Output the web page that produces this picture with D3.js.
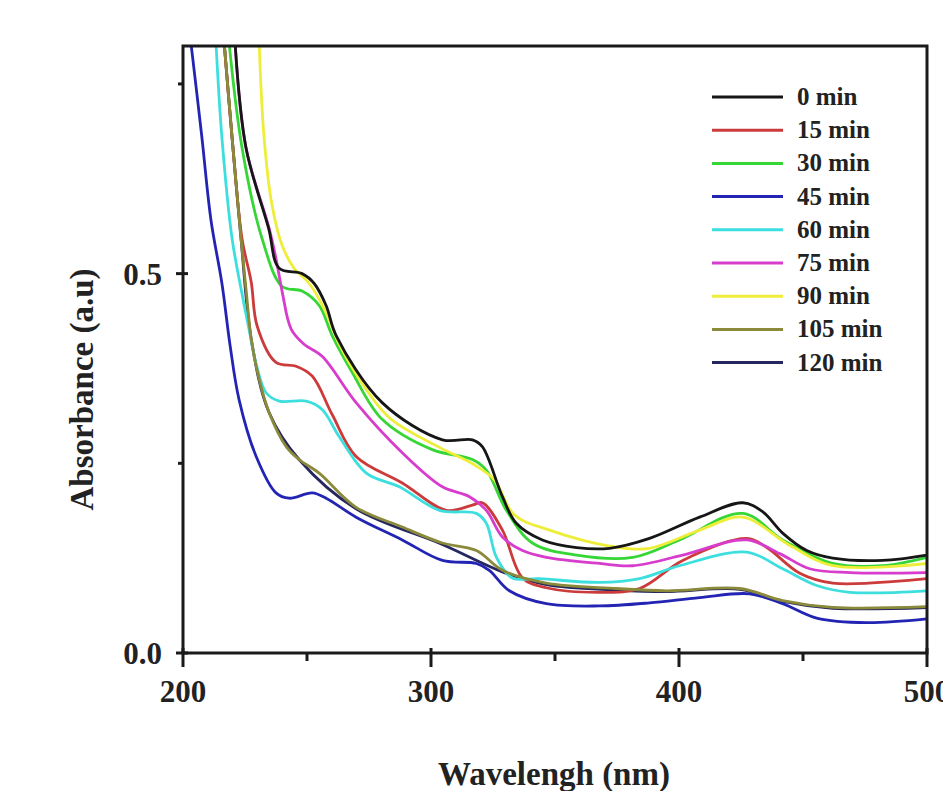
<!DOCTYPE html>
<html>
<head>
<meta charset="utf-8">
<script src="https://cdn.jsdelivr.net/npm/d3@7"></script>
<style>
  body { margin: 0; background: #fff; }
  text { font-family: "Liberation Serif", "Times New Roman", serif; font-weight: bold; fill: #222; }
</style>
</head>
<body>
<div class="chart"></div>
<script>
// legend labels and colours
var labels = ["0 min", "15 min", "30 min", "45 min", "60 min", "75 min", "90 min", "105 min", "120 min"];
var colors = ["#161616", "#cc3b3b", "#36d636", "#2424b4", "#3ddede", "#d83ccc", "#eeee3a", "#8a8a3a", "#262660"];

// spectra: wavelength (nm) / absorbance (a.u)
var wl0 = [221, 225.4, 234.5, 238.8, 248, 252.9, 257.7, 261.8, 280.3, 304.6, 316.7, 320.7, 328.8, 334.4, 344.9, 358.7, 372, 388.1, 408.3, 425.7, 433.8, 441.8, 451.5, 462, 482.2, 500];
var abs0 = [0.804, 0.666, 0.56, 0.507, 0.5, 0.487, 0.458, 0.418, 0.33, 0.281, 0.281, 0.272, 0.206, 0.171, 0.149, 0.139, 0.138, 0.151, 0.179, 0.198, 0.186, 0.158, 0.135, 0.125, 0.122, 0.129];

var wl15 = [216.6, 219.8, 223.8, 227.5, 229.9, 237.5, 245.6, 252.1, 260.2, 269.8, 288.4, 306.2, 316.7, 320.7, 328.8, 336.9, 346.5, 367.9, 384.1, 401.5, 427.3, 435.4, 448.7, 462, 500];
var abs15 = [0.804, 0.679, 0.546, 0.489, 0.431, 0.383, 0.378, 0.365, 0.314, 0.259, 0.224, 0.188, 0.195, 0.198, 0.162, 0.099, 0.086, 0.08, 0.085, 0.122, 0.151, 0.139, 0.105, 0.092, 0.098];

var wl30 = [218.6, 223.8, 231.9, 240, 248, 254.9, 260.2, 268.2, 280.3, 300.5, 316.7, 322.3, 330.4, 340.9, 358.7, 381.3, 400.2, 425.7, 441.8, 462, 482.2, 500];
var abs30 = [0.804, 0.666, 0.546, 0.483, 0.477, 0.458, 0.418, 0.37, 0.308, 0.268, 0.255, 0.241, 0.188, 0.145, 0.129, 0.126, 0.149, 0.184, 0.149, 0.118, 0.115, 0.126];

var wl45 = [203.2, 207.5, 211.3, 215.7, 219, 222.6, 229.5, 237.5, 242.8, 252.1, 257.7, 269.8, 288.4, 304.6, 318.3, 323.5, 331.6, 346.5, 367.9, 388.1, 408.3, 428.5, 441.8, 455.5, 475.7, 500];
var abs45 = [0.804, 0.683, 0.57, 0.487, 0.405, 0.334, 0.259, 0.211, 0.204, 0.211, 0.204, 0.179, 0.149, 0.122, 0.118, 0.109, 0.082, 0.065, 0.062, 0.066, 0.073, 0.078, 0.065, 0.046, 0.04, 0.045];

var wl60 = [213.3, 215.7, 219.8, 223.4, 226.6, 229.5, 233.5, 238.8, 249.7, 256.1, 263, 273.9, 287.2, 303.4, 318.3, 322.3, 326.4, 332.8, 343.7, 367.9, 384.1, 400.2, 427.3, 441.8, 455.5, 468.9, 500];
var abs60 = [0.804, 0.679, 0.546, 0.48, 0.427, 0.381, 0.343, 0.332, 0.332, 0.321, 0.285, 0.237, 0.219, 0.188, 0.184, 0.171, 0.126, 0.099, 0.098, 0.093, 0.098, 0.115, 0.133, 0.111, 0.089, 0.08, 0.082];

var wl75 = [221, 225.4, 234.7, 237.5, 240, 243.6, 248.8, 256.1, 269.8, 288.4, 304.6, 315.5, 322.3, 328.8, 336.9, 346.5, 367.9, 381.3, 401.5, 427.3, 440.6, 452.7, 468.9, 500];
var abs75 = [0.804, 0.666, 0.56, 0.52, 0.476, 0.427, 0.407, 0.391, 0.33, 0.264, 0.219, 0.206, 0.188, 0.153, 0.135, 0.126, 0.118, 0.115, 0.129, 0.149, 0.131, 0.111, 0.106, 0.106];

var wl90 = [230.7, 232.7, 235.9, 240, 244.8, 250.9, 256.9, 263, 271.1, 283.2, 303.4, 317.5, 325.6, 333.6, 347.8, 372, 388.1, 408.3, 425.7, 444.6, 462, 500];
var abs90 = [0.804, 0.679, 0.59, 0.537, 0.507, 0.487, 0.454, 0.407, 0.361, 0.31, 0.271, 0.248, 0.228, 0.182, 0.162, 0.141, 0.138, 0.162, 0.179, 0.142, 0.115, 0.118];

var wl105 = [216.6, 219.8, 223.4, 225.4, 227.5, 230.7, 234.7, 241.6, 246.8, 254.9, 269.8, 288.4, 304.6, 318.3, 328.8, 346.5, 374.8, 395, 424.5, 441.8, 462, 500];
var abs105 = [0.804, 0.679, 0.546, 0.48, 0.414, 0.361, 0.317, 0.272, 0.255, 0.237, 0.192, 0.166, 0.145, 0.135, 0.109, 0.092, 0.085, 0.082, 0.085, 0.069, 0.06, 0.061];

var wl120 = [216.6, 219.8, 223.4, 227.5, 234.7, 246.8, 269.8, 304.6, 328.8, 346.5, 374.8, 395, 424.5, 441.8, 462, 500];
var abs120 = [0.804, 0.679, 0.546, 0.414, 0.317, 0.255, 0.19, 0.143, 0.107, 0.09, 0.083, 0.081, 0.084, 0.068, 0.059, 0.06];

var xTicks = [200, 250, 300, 350, 400, 450, 500];
var xLabels = [200, 300, 400, 500];
var yTicks = [0, 0.25, 0.5, 0.75];
var yLabels = [0, 0.5];

var allWl = [wl0, wl15, wl30, wl45, wl60, wl75, wl90, wl105, wl120];
var allAbs = [abs0, abs15, abs30, abs45, abs60, abs75, abs90, abs105, abs120];

var svgWidth = 943, svgHeight = 791;
var margin = { top: 46, left: 183, right: 16, bottom: 138 };
var width = svgWidth - margin.left - margin.right;
var height = svgHeight - margin.top - margin.bottom;

var svg = d3.select(".chart").append("svg")
    .attr("width", svgWidth)
    .attr("height", svgHeight);

var chartGroup = svg.append("g")
    .attr("transform", `translate(${margin.left}, ${margin.top})`);

var xScale = d3.scaleLinear().domain([200, 500]).range([0, width]);
var yScale = d3.scaleLinear().domain([0, 0.8]).range([height, 0]);

svg.append("defs").append("clipPath").attr("id", "plotClip")
    .append("rect").attr("width", width).attr("height", height);

// drawing order: 120 min underneath, 0 min on top
var order = [8, 1, 2, 3, 4, 5, 6, 7, 0];
var line = d3.line()
    .x(d => xScale(d[0]))
    .y(d => yScale(d[1]))
    .curve(d3.curveCatmullRom.alpha(0.5));

var lines = chartGroup.append("g").attr("clip-path", "url(#plotClip)");
order.forEach(function (i) {
    var pts = allWl[i].map((w, k) => [w, allAbs[i][k]]);
    lines.append("path")
        .datum(pts)
        .attr("fill", "none")
        .attr("stroke", colors[i])
        .attr("stroke-width", 2.8)
        .attr("stroke-linejoin", "round")
        .attr("d", line);
});

// frame
chartGroup.append("rect")
    .attr("width", width).attr("height", height)
    .attr("fill", "none").attr("stroke", "#1a1a1a").attr("stroke-width", 3);

// x axis
var xAxis = chartGroup.append("g").attr("transform", `translate(0, ${height})`);
xAxis.selectAll("line").data(xTicks).enter().append("line")
    .attr("x1", d => xScale(d)).attr("x2", d => xScale(d))
    .attr("y1", d => xLabels.includes(d) ? -5 : 0)
    .attr("y2", d => xLabels.includes(d) ? 14 : 8)
    .attr("stroke", "#1a1a1a").attr("stroke-width", 3);
xAxis.selectAll("text").data(xLabels).enter().append("text")
    .attr("x", d => xScale(d)).attr("y", 49)
    .attr("text-anchor", "middle")
    .style("font-size", "31px")
    .text(d => d);

// y axis
var yAxis = chartGroup.append("g");
yAxis.selectAll("line").data(yTicks).enter().append("line")
    .attr("y1", d => yScale(d)).attr("y2", d => yScale(d))
    .attr("x1", d => yLabels.includes(d) ? -7 : -5)
    .attr("x2", d => yLabels.includes(d) ? 5 : 0)
    .attr("stroke", "#1a1a1a").attr("stroke-width", 3);
yAxis.selectAll("text").data(yLabels).enter().append("text")
    .attr("x", -21).attr("y", d => yScale(d) + 11)
    .attr("text-anchor", "end")
    .style("font-size", "31px")
    .text(d => d.toFixed(1));

// axis titles
chartGroup.append("text")
    .attr("x", width / 2 - 1).attr("y", height + 132)
    .attr("text-anchor", "middle")
    .style("font-size", "33px")
    .text("Wavelengh (nm)");

chartGroup.append("text")
    .attr("transform", `translate(-90, ${height / 2 + 40}) rotate(-90)`)
    .attr("text-anchor", "middle")
    .style("font-size", "33px")
    .text("Absorbance (a.u)");

// legend
var legend = chartGroup.append("g").attr("transform", "translate(529, 51)");
labels.forEach(function (lab, i) {
    var row = legend.append("g").attr("transform", `translate(0, ${i * 33.2})`);
    row.append("line")
        .attr("x1", 0).attr("x2", 71)
        .attr("stroke", colors[i]).attr("stroke-width", 3);
    row.append("text")
        .attr("x", 85).attr("y", 8)
        .style("font-size", "25px")
        .text(lab);
});
</script>
</body>
</html>
